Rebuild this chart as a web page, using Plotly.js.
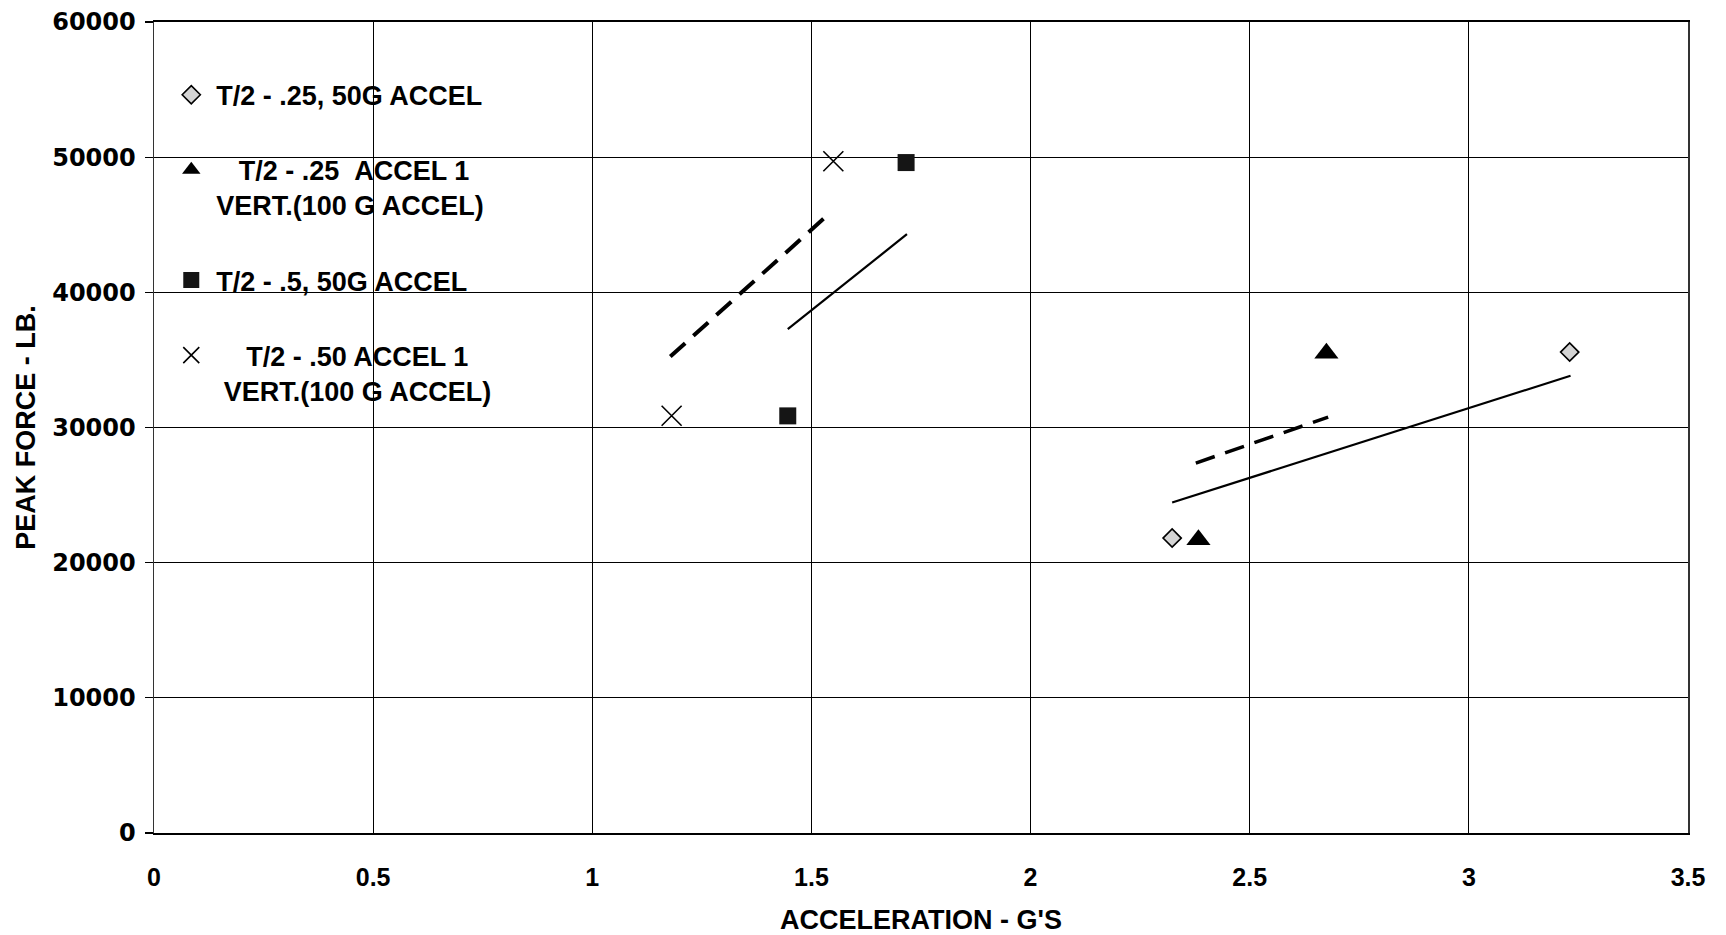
<!DOCTYPE html>
<html><head><meta charset="utf-8">
<script src="https://cdn.plot.ly/plotly-3.0.1.min.js"></script>
<style>html,body{margin:0;padding:0;background:#fff}#chart{width:1726px;height:935px}</style>
</head><body><div id="chart"></div>
<script>
// Series names (legend text)
const nameDiamond = "T/2 - .25, 50G ACCEL";
const nameTriangle = "\u00a0\u00a0\u00a0T/2 - .25\u00a0\u00a0ACCEL 1<br>VERT.(100 G ACCEL)";
const nameSquare = "T/2 - .5, 50G ACCEL";
const nameCross = "\u00a0\u00a0\u00a0\u00a0T/2 - .50 ACCEL 1<br>\u00a0VERT.(100 G ACCEL)";

// Data points
const diamondX = [2.323, 3.230];
const diamondY = [21820, 35580];
const triangleX = [2.383, 2.675];
const triangleY = [21700, 35500];
const squareX = [1.446, 1.716];
const squareY = [30860, 49600];
const crossX = [1.181, 1.550];
const crossY = [30870, 49700];

// Trend lines
const solidLowX = [2.323, 3.232];
const solidLowY = [24450, 33830];
const dashLowX = [2.377, 2.679];
const dashLowY = [27370, 30770];
const solidHighX = [1.446, 1.718];
const solidHighY = [37280, 44300];
const dashHighX = [1.178, 1.535];
const dashHighY = [35250, 45660];

// Axis ticks
const xTickVals = [0, 0.5, 1, 1.5, 2, 2.5, 3, 3.5];
const xTickText = ["0", "0.5", "1", "1.5", "2", "2.5", "3", "3.5"];
const yTickVals = [0, 10000, 20000, 30000, 40000, 50000, 60000];
const yTickText = ["0", "10000", "20000", "30000", "40000", "50000", "60000"];

const traces = [
  {x: diamondX, y: diamondY, name: nameDiamond, legendgroup: "a", type: "scatter", mode: "markers",
   marker: {symbol: "diamond", size: 14, color: "#d4d4d4", line: {color: "#000", width: 1.6}}},
  {x: triangleX, y: triangleY, name: nameTriangle, legendgroup: "b", type: "scatter", mode: "markers",
   marker: {symbol: "triangle-up", size: 21, color: "#000"}},
  {x: squareX, y: squareY, name: nameSquare, legendgroup: "c", type: "scatter", mode: "markers",
   marker: {symbol: "square", size: 17, color: "#151515"}},
  {x: crossX, y: crossY, name: nameCross, legendgroup: "d", type: "scatter", mode: "markers",
   marker: {symbol: "x-thin-open", size: 20, color: "#000", line: {color: "#000", width: 1.6}}},
  {x: solidLowX, y: solidLowY, type: "scatter", mode: "lines", showlegend: false,
   line: {color: "#000", width: 2.2}},
  {x: dashLowX, y: dashLowY, type: "scatter", mode: "lines", showlegend: false,
   line: {color: "#000", width: 3.5, dash: "20px,11px"}},
  {x: solidHighX, y: solidHighY, type: "scatter", mode: "lines", showlegend: false,
   line: {color: "#000", width: 2.2}},
  {x: dashHighX, y: dashHighY, type: "scatter", mode: "lines", showlegend: false,
   line: {color: "#000", width: 4, dash: "20px,11px"}}
];

const layout = {
  width: 1726, height: 935,
  margin: {l: 154, r: 38, t: 22, b: 102, pad: 0},
  paper_bgcolor: "#fff", plot_bgcolor: "#fff",
  showlegend: true,
  legend: {x: 0.008, y: 0.94, xanchor: "left", yanchor: "top",
    bgcolor: "rgba(0,0,0,0)", borderwidth: 0,
    font: {family: "Liberation Sans, Arial, sans-serif", size: 27, weight: "bold", color: "#000"},
    traceorder: "grouped", tracegroupgap: 37, valign: "top", itemwidth: 40},
  xaxis: {
    range: [0, 3.5], tickmode: "array", tickvals: xTickVals, ticktext: xTickText,
    showgrid: true, gridcolor: "#000", gridwidth: 1.2,
    showline: true, linecolor: "#000", linewidth: 2, mirror: true,
    zeroline: false, ticks: "outside", ticklen: 0, tickcolor: "rgba(0,0,0,0)",
    ticklabelstandoff: 21,
    tickfont: {family: "Liberation Sans, Arial, sans-serif", size: 25, weight: "bold", color: "#000"},
    title: {text: "ACCELERATION - G'S", standoff: 23,
      font: {family: "Liberation Sans, Arial, sans-serif", size: 27, weight: "bold", color: "#000"}},
    automargin: false
  },
  yaxis: {
    range: [0, 60000], tickmode: "array", tickvals: yTickVals, ticktext: yTickText,
    showgrid: true, gridcolor: "#000", gridwidth: 1.2,
    showline: true, linecolor: "#333", linewidth: 1.5, mirror: true,
    zeroline: false, ticks: "outside", ticklen: 8, tickcolor: "#000", tickwidth: 1.2,
    ticklabelstandoff: 4,
    tickfont: {family: "DejaVu Sans, Verdana, sans-serif", size: 24, weight: "bold", color: "#000"},
    title: {text: "PEAK FORCE - LB.", standoff: 9,
      font: {family: "Liberation Sans, Arial, sans-serif", size: 27, weight: "bold", color: "#000"}},
    automargin: false
  }
};

Plotly.newPlot("chart", traces, layout, {displayModeBar: false, staticPlot: true});
</script>
</body></html>
